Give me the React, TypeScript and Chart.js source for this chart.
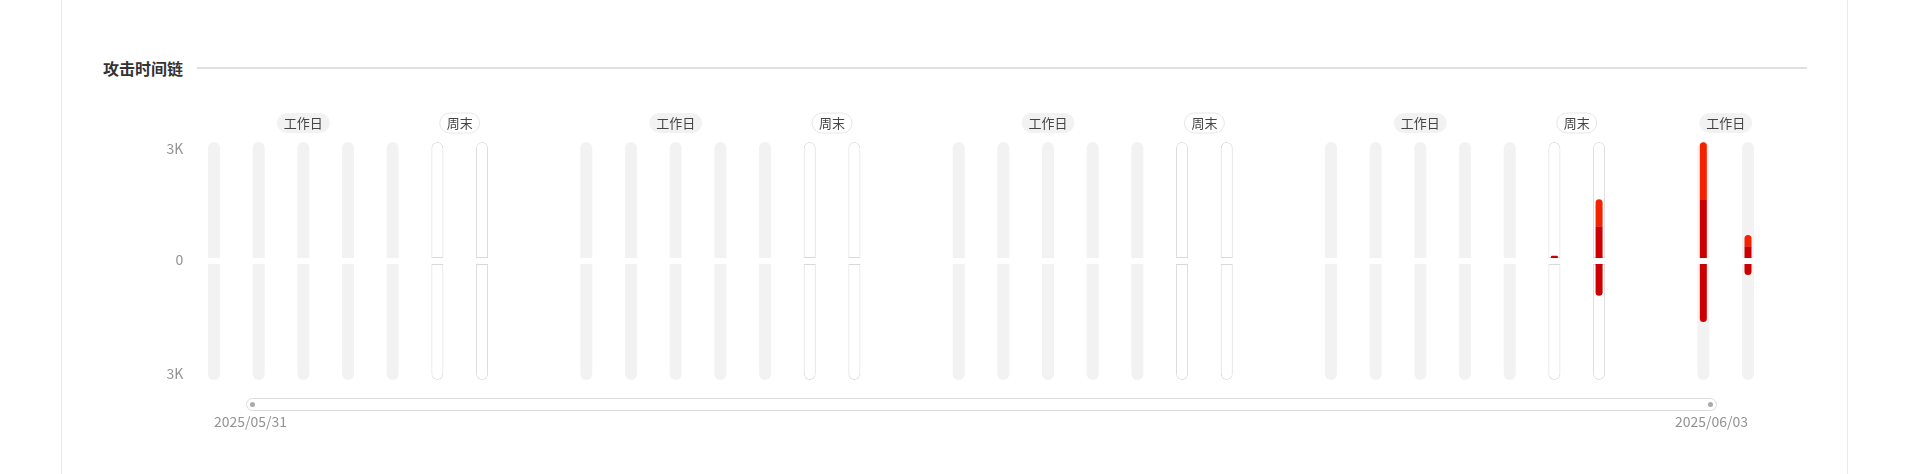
import { useEffect, useRef } from "react";
import { Chart, registerables } from "chart.js";

Chart.register(...registerables);

const FONT = '"Noto Sans CJK SC", "Microsoft YaHei", sans-serif';

// day type of each bar, one list per group
const WEEK = ["工作日", "工作日", "工作日", "工作日", "工作日", "周末", "周末"];
const dayGroups = [WEEK, WEEK, WEEK, WEEK, ["工作日", "工作日"]];

// attack counts per bar (upper: two stacked parts, lower: one part)
const upperDark = [
  0, 0, 0, 0, 0, 0, 0,
  0, 0, 0, 0, 0, 0, 0,
  0, 0, 0, 0, 0, 0, 0,
  0, 0, 0, 0, 0, 60, 800,
  1460, 300
];
const upperBright = [
  0, 0, 0, 0, 0, 0, 0,
  0, 0, 0, 0, 0, 0, 0,
  0, 0, 0, 0, 0, 0, 0,
  0, 0, 0, 0, 0, 0, 680,
  1460, 280
];
const lowerDark = [
  0, 0, 0, 0, 0, 0, 0,
  0, 0, 0, 0, 0, 0, 0,
  0, 0, 0, 0, 0, 0, 0,
  0, 0, 0, 0, 0, 0, 800,
  1460, 280
];

const yTicks = [3000, 0, -3000];
const dateLabels = ["2025/05/31", "2025/06/03"];

const Y_MAX = 3000;
const GAP = 75; // white gap around zero, in value units
const BAR_STEP = 3;
const GROUP_STEP = 7;

const DARK = "#cc0000";
const BRIGHT = "#f52200";
const AXIS_TEXT = "#929292";

// slot positions on the x scale
const slots: { x: number; type: string }[] = [];
let pos = 0;
dayGroups.forEach((g) => {
  g.forEach((t) => {
    slots.push({ x: pos, type: t });
    pos += BAR_STEP;
  });
  pos += GROUP_STEP - BAR_STEP;
});
const lastX = slots[slots.length - 1].x;

const fmtK = (v: number) => (v === 0 ? "0" : Math.abs(v) / 1000 + "K");

const isWeekend = (ctx: any) => slots[ctx.dataIndex]?.type === "周末";

const decorPlugin = {
  id: "decor",
  afterDraw(chart: any) {
    const { ctx, chartArea, scales } = chart;
    const x = scales.x;
    const y = scales.y;
    ctx.save();

    // y labels
    ctx.font = `14px ${FONT}`;
    ctx.fillStyle = AXIS_TEXT;
    ctx.textAlign = "right";
    yTicks.forEach((v) => {
      const py = y.getPixelForValue(v);
      ctx.textBaseline = v > 0 ? "top" : v < 0 ? "bottom" : "middle";
      ctx.fillText(fmtK(v), chartArea.left - 1, v > 0 ? py : v < 0 ? py + 1 : py - 1);
    });

    // date labels: first starts at first bar, last ends at last bar
    ctx.textBaseline = "middle";
    const dy = chartArea.bottom + 42;
    ctx.textAlign = "left";
    ctx.fillText(dateLabels[0], x.getPixelForValue(slots[0].x), dy);
    ctx.textAlign = "right";
    ctx.fillText(dateLabels[1], x.getPixelForValue(lastX), dy);

    // day type pills
    ctx.font = `13px ${FONT}`;
    let start = 0;
    for (let i = 1; i <= slots.length; i++) {
      const prev = slots[i - 1];
      const cur = slots[i];
      if (cur && cur.type === prev.type && cur.x - prev.x === BAR_STEP) continue;
      const cx = (x.getPixelForValue(slots[start].x) + x.getPixelForValue(prev.x)) / 2;
      const label = prev.type;
      const w = ctx.measureText(label).width + 14;
      const h = 20;
      const top = chartArea.top - 29;
      ctx.beginPath();
      ctx.roundRect(cx - w / 2, top, w, h, h / 2);
      if (label === "周末") {
        ctx.fillStyle = "#fff";
        ctx.fill();
        ctx.strokeStyle = "#e6e6e6";
        ctx.lineWidth = 1;
        ctx.stroke();
      } else {
        ctx.fillStyle = "#f2f2f2";
        ctx.fill();
      }
      ctx.fillStyle = "#444";
      ctx.textAlign = "center";
      ctx.textBaseline = "middle";
      ctx.fillText(label, cx, top + h / 2);
      start = i;
    }
    ctx.restore();
  }
};

export default function App() {
  const chartRef = useRef<HTMLCanvasElement>(null);
  const chartInstance = useRef<Chart | null>(null);

  useEffect(() => {
    if (!chartRef.current) return;
    if (chartInstance.current) chartInstance.current.destroy();

    const trackBase = {
      type: "bar" as const,
      grouped: false,
      barThickness: 12,
      borderSkipped: false,
      inflateAmount: 0,
      order: 2,
      backgroundColor: (c: any) => (isWeekend(c) ? "#ffffff" : "#f2f2f2"),
      borderColor: "#d9d9d9",
      borderWidth: (c: any) => (isWeekend(c) ? 1 : 0)
    };

    const redBase = {
      type: "bar" as const,
      grouped: false,
      barThickness: 7,
      inflateAmount: 0,
      order: 1
    };

    chartInstance.current = new Chart(chartRef.current, {
      type: "bar",
      data: {
        datasets: [
          {
            ...trackBase,
            label: "upperTrack",
            data: slots.map((s) => ({ x: s.x, y: [GAP, Y_MAX] })),
            borderRadius: { topLeft: 6, topRight: 6, bottomLeft: 0, bottomRight: 0 }
          },
          {
            ...trackBase,
            label: "lowerTrack",
            data: slots.map((s) => ({ x: s.x, y: [-GAP, -Y_MAX] })),
            borderRadius: { topLeft: 0, topRight: 0, bottomLeft: 6, bottomRight: 6 }
          },
          {
            ...redBase,
            label: "upperDark",
            backgroundColor: DARK,
            borderRadius: (c: any) => (upperBright[c.dataIndex] > 0 ? 0 : 4),
            data: slots.map((s, i) => ({
              x: s.x,
              y: upperDark[i] > 0 ? [GAP, GAP + upperDark[i]] : null
            }))
          },
          {
            ...redBase,
            label: "upperBright",
            backgroundColor: BRIGHT,
            borderRadius: 4,
            data: slots.map((s, i) => ({
              x: s.x,
              y:
                upperBright[i] > 0
                  ? [GAP + upperDark[i], GAP + upperDark[i] + upperBright[i]]
                  : null
            }))
          },
          {
            ...redBase,
            label: "lowerDark",
            backgroundColor: DARK,
            borderRadius: 4,
            data: slots.map((s, i) => ({
              x: s.x,
              y: lowerDark[i] > 0 ? [-GAP, -GAP - lowerDark[i]] : null
            }))
          }
        ] as any
      },
      options: {
        animation: false,
        responsive: true,
        maintainAspectRatio: false,
        events: [],
        layout: {
          padding: { left: 184.2, right: 135.2, top: 142, bottom: 94 }
        },
        plugins: {
          legend: { display: false },
          tooltip: { enabled: false }
        },
        scales: {
          x: {
            type: "linear",
            display: false,
            offset: false,
            min: -2,
            max: lastX + 2
          },
          y: {
            display: false,
            min: -Y_MAX,
            max: Y_MAX
          }
        }
      },
      plugins: [decorPlugin]
    });

    return () => {
      if (chartInstance.current) {
        chartInstance.current.destroy();
        chartInstance.current = null;
      }
    };
  }, []);

  return (
    <div
      style={{
        position: "absolute",
        left: 0,
        top: 0,
        width: 1913,
        height: 474,
        background: "#fff",
        fontFamily: FONT,
        overflow: "hidden"
      }}
    >
      <div style={{ position: "absolute", left: 61, top: 0, width: 1, height: 474, background: "#e8e8e8" }} />
      <div style={{ position: "absolute", left: 1847, top: 0, width: 1, height: 474, background: "#e8e8e8" }} />
      <div
        style={{
          position: "absolute",
          left: 103,
          top: 58,
          height: 20,
          lineHeight: "20px",
          fontSize: 16,
          fontWeight: "bold",
          color: "#333"
        }}
      >
        攻击时间链
      </div>
      <div style={{ position: "absolute", left: 197, top: 67, width: 1610, height: 2, background: "#e0e0e0" }} />
      <div style={{ position: "absolute", left: 0, top: 0, width: 1913, height: 474 }}>
        <canvas ref={chartRef} />
      </div>
      <div
        style={{
          position: "absolute",
          left: 246,
          top: 398,
          width: 1471,
          height: 13,
          boxSizing: "border-box",
          border: "1px solid #dcdcdc",
          borderRadius: 7
        }}
      />
      <div style={{ position: "absolute", left: 249.5, top: 402, width: 5, height: 5, borderRadius: 3, background: "#aaa" }} />
      <div style={{ position: "absolute", left: 1707.5, top: 402, width: 5, height: 5, borderRadius: 3, background: "#aaa" }} />
    </div>
  );
}
